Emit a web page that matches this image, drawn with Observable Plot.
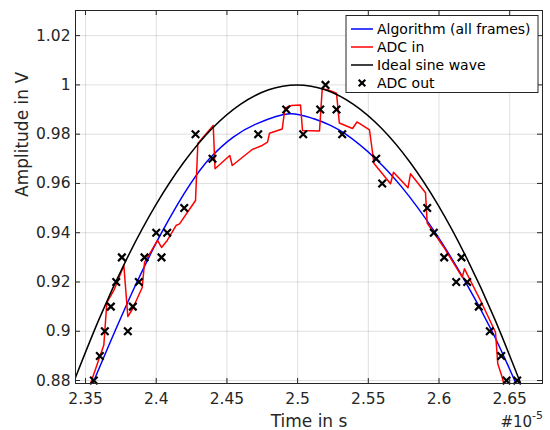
<!DOCTYPE html>
<html>
<head>
<meta charset="utf-8">
<script src="https://cdn.jsdelivr.net/npm/d3@7"></script>
<script src="https://cdn.jsdelivr.net/npm/@observablehq/plot@0.6"></script>
<style>
  html, body { margin: 0; padding: 0; background: #fff; }
  #chart { width: 550px; height: 430px; }
</style>
</head>
<body>
<div id="chart"></div>
<script>
// ---- data (time in units of 1e-5 s, amplitude in V) ----
const xTicks = [2.35, 2.4, 2.45, 2.5, 2.55, 2.6, 2.65];
const xTickLabels = ["2.35", "2.4", "2.45", "2.5", "2.55", "2.6", "2.65"];
const yTicks = [0.88, 0.9, 0.92, 0.94, 0.96, 0.98, 1, 1.02];
const yTickLabels = ["0.88", "0.9", "0.92", "0.94", "0.96", "0.98", "1", "1.02"];
const seriesNames = ["Algorithm (all frames)", "ADC in", "Ideal sine wave", "ADC out"];
const seriesColors = ["#0000ff", "#ff0000", "#000000", "#000000"];

const algoTime = [2.3545, 2.3708, 2.3864, 2.4038, 2.4244, 2.4376, 2.4545, 2.4709, 2.4945, 2.51145, 2.52326, 2.5335, 2.5551, 2.5737, 2.5971, 2.6186, 2.6375, 2.6551];
const algoAmp  = [0.87797, 0.9, 0.92, 0.94, 0.96, 0.97, 0.9788, 0.9842, 0.9883, 0.98628, 0.98355, 0.98018, 0.97003, 0.9585, 0.94022, 0.9202, 0.90002, 0.87797];

const adcInTime = [2.35304, 2.36294, 2.36506, 2.37001, 2.37709, 2.37991, 2.38303, 2.3901, 2.39172, 2.40092, 2.40375, 2.40778, 2.414, 2.41648, 2.42779, 2.42942, 2.44031, 2.44158, 2.45205, 2.45375, 2.46789, 2.47496, 2.47871, 2.48012, 2.48911, 2.49109, 2.49568, 2.50205, 2.50346, 2.51548, 2.51739, 2.52114, 2.52751, 2.52949, 2.53882, 2.542, 2.55084, 2.55403, 2.5657, 2.56782, 2.57807, 2.57984, 2.59045, 2.59165, 2.60339, 2.6164, 2.61803, 2.62934, 2.63995, 2.64158, 2.64469, 2.64632];
const adcInAmp  = [0.87797, 0.89442, 0.91167, 0.91655, 0.9267, 0.90599, 0.90883, 0.91776, 0.92792, 0.93685, 0.93401, 0.93685, 0.94293, 0.94362, 0.95308, 0.97624, 0.98355, 0.96595, 0.97135, 0.96729, 0.97379, 0.97541, 0.97675, 0.98041, 0.98211, 0.99064, 0.99165, 0.99185, 0.9815, 0.9813, 0.99835, 0.99802, 0.99664, 0.98454, 0.98231, 0.98495, 0.9817, 0.9681, 0.95986, 0.96457, 0.95824, 0.96392, 0.95621, 0.94394, 0.93412, 0.92194, 0.92535, 0.91248, 0.89961, 0.88678, 0.88134, 0.87756];

const idealTime = [2.3395, 2.3595, 2.3795, 2.3995, 2.4195, 2.4395, 2.4595, 2.4795, 2.4995, 2.5195, 2.5395, 2.5595, 2.5795, 2.5995, 2.6195, 2.6395, 2.6595];
const idealAmp  = [0.87631, 0.90483, 0.92978, 0.95106, 0.96858, 0.98229, 0.99211, 0.99803, 1, 0.99803, 0.99211, 0.98229, 0.96858, 0.95106, 0.92978, 0.90483, 0.87631];

const adcOutTime = [2.35587, 2.36011, 2.36365, 2.36789, 2.37171, 2.37567, 2.37991, 2.38345, 2.38769, 2.39172, 2.4, 2.40375, 2.40778, 2.4198, 2.42779, 2.43981, 2.47213, 2.49193, 2.50396, 2.51598, 2.51973, 2.52751, 2.53154, 2.55558, 2.55983, 2.59165, 2.59632, 2.60367, 2.61216, 2.61591, 2.61994, 2.62814, 2.63593, 2.64399, 2.64773, 2.6553];
const adcOutAmp  = [0.88, 0.89, 0.90, 0.91, 0.92, 0.93, 0.90, 0.91, 0.92, 0.93, 0.94, 0.93, 0.94, 0.95, 0.98, 0.97, 0.98, 0.99, 0.98, 0.99, 1.00, 0.99, 0.98, 0.97, 0.96, 0.95, 0.94, 0.93, 0.92, 0.93, 0.92, 0.91, 0.90, 0.89, 0.88, 0.88];

const xLabel = "Time in s";
const yLabel = "Amplitude in V";
const exponentBase = "#10";
const exponentPower = "-5";

// ---- layout ----
const W = 550, H = 430;
const mL = 75, mR = 8, mT = 10, mB = 47;
const plotW = W - mL - mR, plotH = H - mT - mB;
const axisColor = "#262626";
const font = "DejaVu Sans, Verdana, sans-serif";
const tickLen = 5;

const idx = a => a.map((_, i) => i);

const chart = Plot.plot({
  width: W,
  height: H,
  marginLeft: mL,
  marginRight: mR,
  marginTop: mT,
  marginBottom: mB,
  style: { fontFamily: font, background: "#fff", color: axisColor },
  x: { domain: [2.3429, 2.6732], axis: null },
  y: { domain: [0.8788, 1.0302], axis: null },
  marks: [
    // grid
    Plot.ruleX(xTicks, { x: d => d, stroke: axisColor, strokeOpacity: 0.15, strokeWidth: 1 }),
    Plot.ruleY(yTicks, { y: d => d, stroke: axisColor, strokeOpacity: 0.15, strokeWidth: 1 }),
    // series
    Plot.line(idx(algoTime), { x: i => algoTime[i], y: i => algoAmp[i], stroke: seriesColors[0], strokeWidth: 1.5, curve: "catmull-rom", clip: true }),
    Plot.line(idx(adcInTime), { x: i => adcInTime[i], y: i => adcInAmp[i], stroke: seriesColors[1], strokeWidth: 1.5, curve: "linear", clip: true }),
    Plot.line(idx(idealTime), { x: i => idealTime[i], y: i => idealAmp[i], stroke: seriesColors[2], strokeWidth: 1.5, curve: "natural", clip: true }),
    Plot.dot(idx(adcOutTime), { x: i => adcOutTime[i], y: i => adcOutAmp[i], symbol: "times", r: 3.5, stroke: seriesColors[3], strokeWidth: 2.2 }),
    // inward ticks on all four sides
    Plot.ruleX(xTicks, { x: d => d, stroke: axisColor, insetTop: plotH - tickLen }),
    Plot.ruleX(xTicks, { x: d => d, stroke: axisColor, insetBottom: plotH - tickLen }),
    Plot.ruleY(yTicks, { y: d => d, stroke: axisColor, insetRight: plotW - tickLen }),
    Plot.ruleY(yTicks, { y: d => d, stroke: axisColor, insetLeft: plotW - tickLen }),
    Plot.frame({ stroke: axisColor, strokeWidth: 1 }),
    // tick labels
    Plot.text(xTicks, { x: d => d, text: (d, i) => xTickLabels[i], frameAnchor: "bottom", lineAnchor: "top", dy: 9, fill: axisColor, fontSize: 15.5 }),
    Plot.text(yTicks, { y: d => d, text: (d, i) => yTickLabels[i], frameAnchor: "left", textAnchor: "end", dx: -5, fill: axisColor, fontSize: 15.5 }),
    // axis labels
    Plot.text([xLabel], { text: d => d, frameAnchor: "bottom", lineAnchor: "middle", dy: 38, fill: axisColor, fontSize: 17 }),
    Plot.text([yLabel], { text: d => d, frameAnchor: "left", rotate: -90, lineAnchor: "middle", dx: -53, fill: axisColor, fontSize: 17 })
  ]
});

const svg = d3.select(chart);

// ---- exponent label (x10^-5 style, below the axis at right) ----
const ex = svg.append("text")
  .attr("x", W - mR + 1).attr("y", H - 3)
  .attr("text-anchor", "end")
  .attr("font-family", font).attr("fill", axisColor);
ex.append("tspan").attr("font-size", 15).text(exponentBase);
ex.append("tspan").attr("font-size", 11).attr("dy", -8).text(exponentPower);

// ---- legend (inside axes, top right) ----
const lg = svg.append("g").attr("transform", "translate(346,15.5)");
const boxW = 192, boxH = 77, rowY = [13.5, 31.5, 49.5, 67.5];
lg.append("rect").attr("x", 0).attr("y", 0).attr("width", boxW).attr("height", boxH)
  .attr("fill", "#fff").attr("stroke", axisColor).attr("stroke-width", 1);
seriesNames.forEach((name, i) => {
  const y = rowY[i];
  if (i < 3) {
    lg.append("line").attr("x1", 5).attr("x2", 27).attr("y1", y).attr("y2", y)
      .attr("stroke", seriesColors[i]).attr("stroke-width", 1.5);
  } else {
    const s = 3.3;
    lg.append("path").attr("d", `M${16 - s},${y - s}L${16 + s},${y + s}M${16 - s},${y + s}L${16 + s},${y - s}`)
      .attr("stroke", seriesColors[i]).attr("stroke-width", 2.2).attr("fill", "none");
  }
  lg.append("text").attr("x", 31).attr("y", y).attr("dy", "0.35em")
    .attr("text-anchor", "start")
    .attr("font-family", font).attr("font-size", 14).attr("fill", "#000").text(name);
});

document.getElementById("chart").appendChild(chart);
</script>
</body>
</html>
